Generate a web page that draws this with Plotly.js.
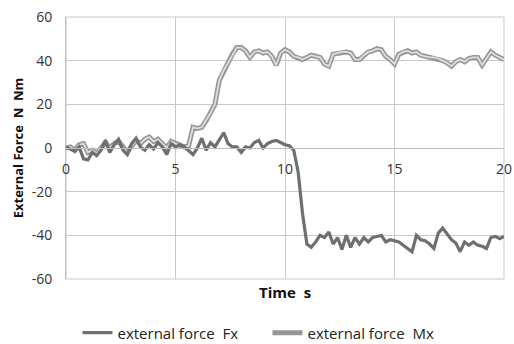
<!DOCTYPE html>
<html>
<head>
<meta charset="utf-8">
<script src="https://cdn.plot.ly/plotly-3.0.1.min.js"></script>
<style>html,body{margin:0;padding:0;background:#fff;}#chart{width:514px;height:344px;}</style>
</head>
<body>
<div id="chart"></div>
<script>
const timeS = [0,0.2,0.4,0.6,0.8,1,1.2,1.4,1.6,1.8,2,2.2,2.4,2.6,2.8,3,3.2,3.4,3.6,3.8,4,4.2,4.4,4.6,4.8,5,5.2,5.4,5.6,5.8,6,6.2,6.4,6.6,6.8,7,7.2,7.4,7.6,7.8,8,8.2,8.4,8.6,8.8,9,9.2,9.4,9.6,9.8,10,10.2,10.4,10.6,10.8,11,11.2,11.4,11.6,11.8,12,12.2,12.4,12.6,12.8,13,13.2,13.4,13.6,13.8,14,14.2,14.4,14.6,14.8,15,15.2,15.4,15.6,15.8,16,16.2,16.4,16.6,16.8,17,17.2,17.4,17.6,17.8,18,18.2,18.4,18.6,18.8,19,19.2,19.4,19.6,19.8,20];

const forceFx = [0.5,-0.5,-1.5,0.5,-5,-5.5,-2,-3.5,-1,3.5,-2,1.5,4,-1,-3,2,4.5,0.5,-1,1.5,-0.5,2.5,0.5,-3,2,0.5,1.5,0.5,-1.5,-3,0,4.5,-1,2.5,0.5,3.5,7,2,0.5,0.5,-2,0.5,0,2.5,3.5,0,2,3,3.5,2.5,1.5,1,-1,-11,-30,-44,-45.5,-43,-40,-41,-38.5,-44,-41,-46.5,-40,-45.5,-41,-44,-41,-43,-41,-40.5,-40,-43,-42,-42.5,-43,-44.5,-46,-47.5,-40,-42,-42.5,-44,-46,-39,-36.7,-39.5,-42,-43.5,-47.5,-43,-44.5,-43,-44.5,-45,-46,-41,-40.5,-41.5,-40.5];

const momentMx = [0,0.5,-1,1.5,2,-2,-1,-2.5,0,2.5,0,2,3,0,-2,1,3.5,2,4,5,3,4,2,0,3,2,1,0.5,1,9.5,9,9.5,12.5,16,20,31,35.5,39,43,46,46,44.5,41.5,44,44.5,43.5,44,42,38,43.5,45,44,42,41.5,40.5,41.5,42.5,42,41.5,38.5,37.5,43,43.5,44,44,43.5,40.5,40.5,42.5,44,44.5,45.5,45,42,40.5,38.5,43,44,44.5,43.5,44,42.5,42,41.5,41.5,41,40,39,37.5,39.5,40.5,39.5,41,41.5,41.5,38,41,44,42.5,41.5,40.5];

const seriesNames = ['external force  Fx', 'external force  Mx'];
const xTicks = [0,5,10,15,20];
const yTicks = [-60,-40,-20,0,20,40,60];

const FONT = '"Open Sans", "Liberation Sans", sans-serif';

const traces = [
  {x: timeS, y: momentMx, type: 'scatter', mode: 'lines', name: seriesNames[1],
   line: {color: '#969696', width: 5}, legendrank: 2, legendgroup: 'mx'},
  {x: timeS, y: momentMx, type: 'scatter', mode: 'lines', name: seriesNames[1],
   line: {color: '#dedede', width: 1.8}, showlegend: false, legendgroup: 'mx', hoverinfo: 'skip'},
  {x: timeS, y: forceFx, type: 'scatter', mode: 'lines', name: seriesNames[0],
   line: {color: '#6f6f6f', width: 3.2}, legendrank: 1}
];

const layout = {
  width: 514, height: 344,
  margin: {l: 66, r: 10, t: 17, b: 65, autoexpand: false},
  paper_bgcolor: '#ffffff', plot_bgcolor: '#ffffff',
  font: {family: FONT, size: 14, color: '#333333'},
  showlegend: true,
  legend: {orientation: 'h', x: 0.46, xanchor: 'center', y: -0.206, yanchor: 'middle',
           entrywidth: 145, entrywidthmode: 'pixels',
           font: {family: FONT, size: 15, color: '#222222'}, traceorder: 'normal'},
  xaxis: {range: [0, 20], tickvals: xTicks, ticktext: xTicks.map(String),
          anchor: 'free', position: 0.5,
          showgrid: true, gridcolor: '#c8c8c8', gridwidth: 1,
          showline: true, linecolor: '#bdbdbd', linewidth: 1,
          zeroline: false, ticks: 'outside', ticklen: 8, tickcolor: 'rgba(0,0,0,0)',
          tickfont: {family: FONT, size: 14, color: '#333333'}, fixedrange: true},
  yaxis: {range: [-60, 60], tickvals: yTicks, ticktext: yTicks.map(String),
          showgrid: true, gridcolor: '#c8c8c8', gridwidth: 1,
          showline: true, linecolor: '#bdbdbd', linewidth: 1,
          zeroline: false, ticks: 'outside', ticklen: 10, tickcolor: 'rgba(0,0,0,0)',
          tickfont: {family: FONT, size: 14, color: '#333333'},
          title: {text: 'External Force  N  Nm', font: {family: FONT, size: 13, color: '#111111', weight: 'bold'}, standoff: 5},
          fixedrange: true},
  shapes: [{type: 'rect', xref: 'paper', yref: 'paper', x0: 0, x1: 1, y0: 0, y1: 1,
            line: {color: '#c8c8c8', width: 1}, fillcolor: 'rgba(0,0,0,0)', layer: 'below'}],
  annotations: [{text: '<b>Time  s</b>', xref: 'paper', yref: 'paper', x: 0.5, y: -0.05,
                 xanchor: 'center', yanchor: 'middle', showarrow: false,
                 font: {family: FONT, size: 15, color: '#111111'}}]
};

Plotly.newPlot('chart', traces, layout, {displayModeBar: false, staticPlot: true});
</script>
</body>
</html>
